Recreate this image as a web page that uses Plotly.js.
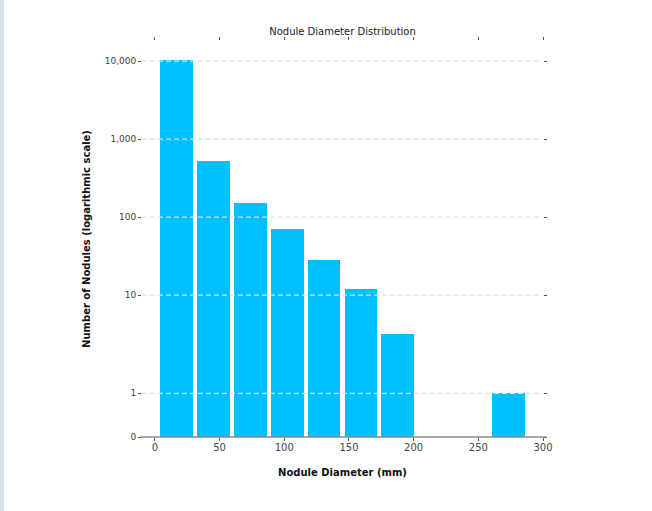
<!DOCTYPE html>
<html>
<head>
<meta charset="utf-8">
<script src="https://cdn.plot.ly/plotly-3.0.1.min.js"></script>
<style>
  html, body { margin: 0; padding: 0; background: #ffffff; }
  #wrap { position: relative; width: 652px; height: 511px; }
  #strip { position: absolute; left: 0; top: 0; width: 4px; height: 511px; background: #d5e0e6; z-index: 2; }
  #chart { position: absolute; left: 0; top: 0; width: 652px; height: 511px; }
</style>
</head>
<body>
<div id="wrap">
  <div id="strip"></div>
  <div id="chart"></div>
</div>
<script>
// Histogram bins (mm) and nodule counts per bin
const binEdges = [2.5, 31, 59.5, 88, 116.5, 145, 173.5, 202, 230.5, 259, 287.5];
const nodeCounts = [10400, 523, 153, 71, 28, 12, 4, 0, 0, 1];

// Axis ticks
const yTickValues = [0, 1, 10, 100, 1000, 10000];
const yTickLabels = ['0', '1', '10', '100', '1,000', '10,000'];
const xTickValues = [0, 50, 100, 150, 200, 250, 300];

// Compressed "symlog"-style scale: linear below 1, logarithmic above
function scaleY(v) {
  if (v <= 0) return 0;
  if (v <= 1) return 0.56 * v;
  if (v <= 10) return 0.56 + 1.26 * Math.log10(v);
  return 1.82 + (Math.log10(v) - 1);
}

const centers = [];
const widths = [];
for (let i = 0; i < nodeCounts.length; i++) {
  centers.push((binEdges[i] + binEdges[i + 1]) / 2);
  widths.push((binEdges[i + 1] - binEdges[i]) * 0.89);
}

const trace = {
  type: 'bar',
  x: centers,
  y: nodeCounts.map(scaleY),
  width: widths,
  customdata: nodeCounts,
  hovertemplate: '%{customdata}<extra></extra>',
  marker: { color: '#00bfff', line: { width: 0 } }
};

// dashed grid drawn on top of the bars
const shapes = yTickValues.filter(v => v > 0).map(v => ({
  type: 'line', xref: 'paper', yref: 'y',
  x0: 0, x1: 1, y0: scaleY(v), y1: scaleY(v),
  layer: 'above',
  line: { color: '#e0e0f4', width: 1.3, dash: '5px,3px' }
}));
// bottom axis line only (top edge keeps just its ticks)
shapes.push({
  type: 'line', xref: 'paper', yref: 'paper',
  x0: -0.005, x1: 1.008, y0: 0, y1: 0,
  layer: 'above',
  line: { color: '#8a8a8a', width: 1.5 }
});

const font = 'DejaVu Sans, sans-serif';

const layout = {
  width: 652, height: 511,
  margin: { l: 142, r: 109, t: 41, b: 74 },
  paper_bgcolor: '#ffffff',
  plot_bgcolor: '#ffffff',
  showlegend: false,
  bargap: 0,
  font: { family: font, color: '#333333' },
  title: {
    text: 'Nodule Diameter Distribution',
    font: { family: font, size: 10, color: '#222222' },
    x: 0.5, xref: 'paper', xanchor: 'center',
    y: 1, yref: 'paper', yanchor: 'bottom',
    pad: { b: 6 }
  },
  xaxis: {
    range: [-10, 300],
    tickvals: xTickValues,
    ticktext: xTickValues.map(String),
    ticks: 'outside', ticklen: 3, tickwidth: 1, tickcolor: '#555555',
    mirror: 'ticks',
    showline: false,
    showgrid: false, zeroline: false,
    ticklabelstandoff: -2,
    tickfont: { family: font, size: 10, color: '#444444' },
    title: {
      text: '<b>Nodule Diameter (mm)</b>',
      font: { family: font, size: 10, color: '#111111' },
      standoff: 16
    }
  },
  yaxis: {
    range: [0, 5.077],
    tickvals: yTickValues.map(scaleY),
    ticktext: yTickLabels,
    ticks: 'outside', ticklen: 3, tickwidth: 1, tickcolor: '#555555',
    mirror: 'ticks',
    showline: false, showgrid: false, zeroline: false,
    tickfont: { family: font, size: 9, color: '#444444' },
    title: {
      text: '<b>Number of Nodules (logarithmic scale)</b>',
      font: { family: font, size: 10, color: '#111111' },
      standoff: 12
    }
  },
  shapes: shapes
};

Plotly.newPlot('chart', [trace], layout, { displayModeBar: false, staticPlot: true });
</script>
</body>
</html>
